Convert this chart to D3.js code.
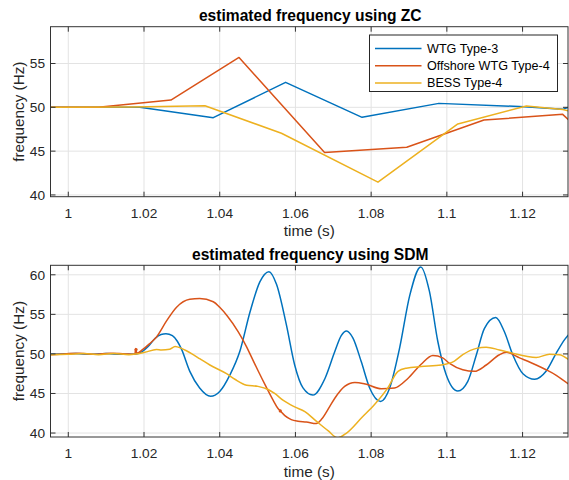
<!DOCTYPE html>
<html><head><meta charset="utf-8">
<script src="https://cdn.jsdelivr.net/npm/d3@7"></script>
<style>
body{margin:0;background:#fff}
svg{display:block}
text{font-family:"Liberation Sans",Arial,Helvetica,sans-serif}
</style>
</head><body>
<svg id="c" width="569" height="480"></svg>
<script>
// ---------- data ----------
const seriesNames = ["WTG Type-3", "Offshore WTG Type-4", "BESS Type-4"];
const seriesColors = ["#0072BD", "#D95319", "#EDB120"];
const xTicks = [1, 1.02, 1.04, 1.06, 1.08, 1.1, 1.12];
const xTickLabels = ["1", "1.02", "1.04", "1.06", "1.08", "1.1", "1.12"];
const yTicksZC = [40, 45, 50, 55];
const yTicksSDM = [40, 45, 50, 55, 60];
const titles = ["estimated frequency using ZC", "estimated frequency using SDM"];
const xLabel = "time (s)";
const yLabel = "frequency (Hz)";

// ZC estimates (time s, frequency Hz)
const zcWTG3 = [[0.9953,50],[1.0189,50.0],[1.0383,48.82],[1.0574,52.85],[1.0776,48.86],[1.0979,50.45],[1.1205,50.07],[1.1306,49.77],[1.1321,50.0]];
const zcOffshore = [[0.9953,50],[1.0079,50.0],[1.0271,50.83],[1.0451,55.69],[1.0677,44.83],[1.0894,45.44],[1.1098,48.55],[1.1306,49.2],[1.1321,48.6]];
const zcBESS = [[0.9953,50],[1.0169,50.05],[1.0361,50.18],[1.0563,47.04],[1.0818,41.46],[1.1029,48.1],[1.1210,50.15],[1.1306,49.75],[1.1321,49.6]];

// SDM estimates (time s, frequency Hz)
const sdmWTG3 = [[0.9953,49.95],[0.998,50.0],[1.002,50.05],[1.006,49.95],[1.010,50.05],[1.014,49.95],[1.018,50.0],[1.0195,50.3],[1.0211,50.95],[1.0229,51.95],[1.0245,52.45],[1.0258,52.55],[1.0275,52.3],[1.0288,51.6],[1.0299,50.6],[1.0321,47.8],[1.0347,45.7],[1.0376,44.65],[1.0400,45.25],[1.0427,47.35],[1.0453,50.3],[1.0480,55.3],[1.0506,59.1],[1.0530,60.4],[1.0550,58.8],[1.0576,53.7],[1.0598,48.6],[1.0620,45.7],[1.0646,44.8],[1.0678,46.9],[1.0704,50.3],[1.0721,52.3],[1.0735,52.9],[1.0752,52.0],[1.0774,49.0],[1.0796,45.7],[1.0825,44.0],[1.0849,45.7],[1.0875,50.7],[1.0902,57.4],[1.0931,61.0],[1.0954,57.9],[1.0976,51.6],[1.0998,47.4],[1.1029,45.3],[1.1055,46.5],[1.1078,49.9],[1.1099,53.2],[1.1129,54.6],[1.1152,52.8],[1.1174,49.9],[1.1201,47.5],[1.1232,46.8],[1.1262,47.8],[1.1289,50.1],[1.1311,51.8],[1.1321,52.4]];
const sdmOffshore = [[0.9953,49.9],[0.999,50.0],[1.003,50.1],[1.007,49.95],[1.011,50.1],[1.015,50.0],[1.0176,49.95],[1.0178,50.7],[1.0181,50.1],[1.0195,50.5],[1.0215,51.3],[1.0233,52.15],[1.0260,54.2],[1.0286,55.9],[1.0321,56.9],[1.0347,57.0],[1.0383,56.6],[1.0400,55.9],[1.0420,54.8],[1.0449,52.8],[1.0471,50.9],[1.0484,49.6],[1.0501,47.9],[1.0523,45.8],[1.0541,44.15],[1.0554,43.1],[1.0560,42.8],[1.0572,42.2],[1.0589,41.7],[1.0607,41.5],[1.0629,41.4],[1.0655,41.2],[1.0670,41.8],[1.0690,43.3],[1.0704,44.4],[1.0730,45.9],[1.0757,46.4],[1.0785,46.2],[1.0827,45.6],[1.0862,45.7],[1.0897,46.9],[1.0932,48.7],[1.0963,49.8],[1.0989,49.5],[1.1007,48.8],[1.1042,48.0],[1.1073,47.8],[1.1104,48.6],[1.1139,49.9],[1.1157,50.2],[1.1192,49.5],[1.1236,48.6],[1.1262,48.0],[1.1289,47.3],[1.1321,46.2]];
const sdmBESS = [[0.9953,49.9],[1.000,49.95],[1.004,50.05],[1.008,49.9],[1.012,50.05],[1.016,49.9],[1.018,50.0],[1.0202,50.2],[1.0233,50.55],[1.0246,50.5],[1.0268,50.6],[1.0282,50.95],[1.0299,50.7],[1.0312,50.4],[1.0330,49.9],[1.0347,49.4],[1.0374,48.6],[1.0418,47.5],[1.0440,46.8],[1.0471,46.05],[1.0501,45.9],[1.0528,45.5],[1.0545,45.0],[1.0567,44.15],[1.0598,43.3],[1.0625,42.7],[1.0655,41.5],[1.0686,40.3],[1.0712,39.4],[1.0735,40.0],[1.0776,42.0],[1.0809,43.6],[1.0844,45.7],[1.0871,47.8],[1.0893,48.2],[1.0932,48.4],[1.0985,48.6],[1.1020,49.1],[1.1042,49.9],[1.1078,50.7],[1.1104,50.85],[1.1139,50.5],[1.1174,50.1],[1.1210,49.7],[1.1236,49.55],[1.1271,49.95],[1.1297,49.9],[1.1321,49.3]];
const sdmOffshoreGlitches = [[1.0179,50.55],[1.0560,42.8]];

// ---------- drawing ----------
const svg = d3.select("#c");
const left = 50.5, right = 568;
const xDomain = [0.9953, 1.132];
const TXT = "#262626";

function panel(cfg) {
  const x = d3.scaleLinear().domain(xDomain).range([left, right]);
  const y = d3.scaleLinear().domain(cfg.yDomain).range([cfg.bottom, cfg.top]);
  const g = svg.append("g");
  const id = "clip" + cfg.idx;
  svg.append("clipPath").attr("id", id).append("rect")
    .attr("x", left).attr("y", cfg.top).attr("width", right - left).attr("height", cfg.bottom - cfg.top);

  // grid
  g.append("g").selectAll("line").data(xTicks).join("line")
    .attr("x1", d => x(d)).attr("x2", d => x(d)).attr("y1", cfg.top).attr("y2", cfg.bottom)
    .attr("stroke", "#e3e3e3").attr("stroke-width", 1);
  g.append("g").selectAll("line").data(cfg.yTicks).join("line")
    .attr("x1", left).attr("x2", right).attr("y1", d => y(d)).attr("y2", d => y(d))
    .attr("stroke", "#e3e3e3").attr("stroke-width", 1);

  // series
  const line = d3.line().x(d => x(d[0])).y(d => y(d[1])).curve(cfg.curve);
  const lg = g.append("g").attr("clip-path", `url(#${id})`);
  cfg.series.forEach((s, i) => {
    lg.append("path").datum(s).attr("d", line).attr("fill", "none")
      .attr("stroke", seriesColors[i]).attr("stroke-width", 1.5).attr("stroke-linejoin", "round");
  });
  if (cfg.glitches) {
    lg.selectAll("circle.gl").data(cfg.glitches).join("circle").attr("class", "gl")
      .attr("cx", d => x(d[0])).attr("cy", d => y(d[1])).attr("r", 1.6)
      .attr("fill", seriesColors[1]);
  }

  // axes box & ticks
  const tl = 5;
  const ax = g.append("g").attr("stroke", "#333").attr("stroke-width", 1);
  ax.append("rect").attr("x", left).attr("y", cfg.top).attr("width", right - left)
    .attr("height", cfg.bottom - cfg.top).attr("fill", "none");
  xTicks.forEach(t => {
    ax.append("line").attr("x1", x(t)).attr("x2", x(t)).attr("y1", cfg.bottom).attr("y2", cfg.bottom - tl);
    ax.append("line").attr("x1", x(t)).attr("x2", x(t)).attr("y1", cfg.top).attr("y2", cfg.top + tl);
  });
  cfg.yTicks.forEach(t => {
    ax.append("line").attr("x1", left).attr("x2", left + tl).attr("y1", y(t)).attr("y2", y(t));
    ax.append("line").attr("x1", right).attr("x2", right - tl).attr("y1", y(t)).attr("y2", y(t));
  });

  // tick labels
  g.append("g").selectAll("text").data(xTicks).join("text")
    .attr("x", d => x(d)).attr("y", cfg.bottom + 21).attr("text-anchor", "middle")
    .attr("font-size", 13.7).attr("fill", TXT).text((d, i) => xTickLabels[i]);
  g.append("g").selectAll("text").data(cfg.yTicks).join("text")
    .attr("x", left - 5.5).attr("y", d => y(d)).attr("dy", "0.36em").attr("text-anchor", "end")
    .attr("font-size", 13.7).attr("fill", TXT).text(d => d);

  // labels
  g.append("text").attr("x", (left + right) / 2).attr("y", cfg.bottom + 39.5)
    .attr("text-anchor", "middle").attr("font-size", 15.3).attr("fill", TXT).text(xLabel);
  g.append("text").attr("transform", `translate(23.5,${(cfg.top + cfg.bottom) / 2}) rotate(-90)`)
    .attr("text-anchor", "middle").attr("font-size", 15.3).attr("fill", TXT).text(yLabel);
  g.append("text").attr("x", (left + right) / 2 + 1).attr("y", cfg.top - 5.8)
    .attr("text-anchor", "middle").attr("font-size", 15.6).attr("font-weight", "bold")
    .attr("fill", "#000").text(cfg.title);

  if (cfg.legend) {
    const lgx = 369.5, lgy = 35, lw = 188, lh = 56.5;
    const L = g.append("g");
    L.append("rect").attr("x", lgx).attr("y", lgy).attr("width", lw).attr("height", lh)
      .attr("fill", "#fff").attr("stroke", "#262626").attr("stroke-width", 1);
    seriesNames.forEach((n, i) => {
      const yy = lgy + 13.5 + i * 17.2;
      L.append("line").attr("x1", lgx + 5.5).attr("x2", lgx + 52).attr("y1", yy).attr("y2", yy)
        .attr("stroke", seriesColors[i]).attr("stroke-width", 1.5);
      L.append("text").attr("x", lgx + 57.5).attr("y", yy).attr("dy", "0.36em")
        .attr("font-size", 12.6).attr("fill", "#000").text(n);
    });
  }
}

panel({idx: 0, top: 26.7, bottom: 196.7, yDomain: [39.8, 59.2], yTicks: yTicksZC,
  title: titles[0], series: [zcWTG3, zcOffshore, zcBESS], curve: d3.curveLinear, legend: true});
panel({idx: 1, top: 265.3, bottom: 437, yDomain: [39.5, 61.2], yTicks: yTicksSDM,
  title: titles[1], series: [sdmWTG3, sdmOffshore, sdmBESS], curve: d3.curveMonotoneX,
  glitches: sdmOffshoreGlitches});
</script>
</body></html>
